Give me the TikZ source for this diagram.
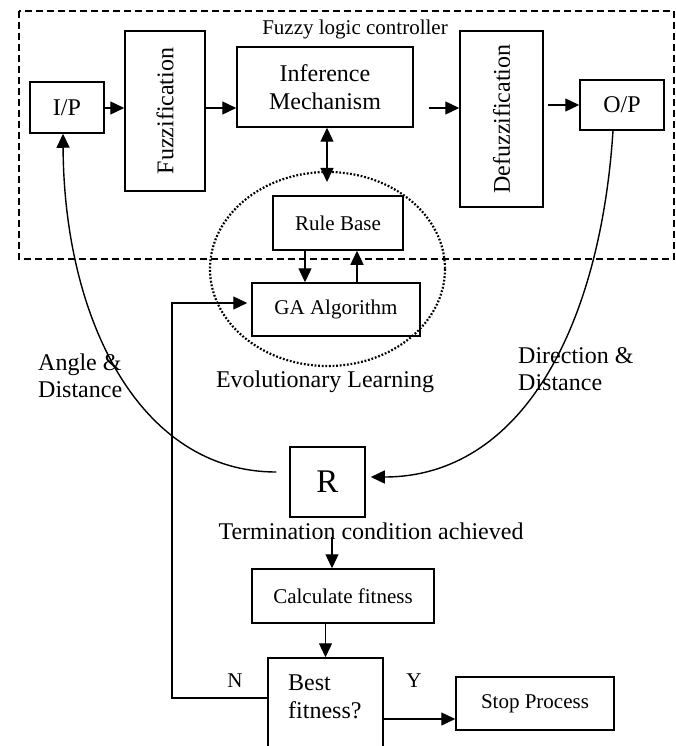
\documentclass[tikz,border=0pt]{standalone}
\usepackage{fontspec}
\usepackage{graphicx}
\setmainfont{Liberation Serif}
\usetikzlibrary{arrows.meta,calc}
\newcommand{\bigf}{\fontsize{24}{27.5}\selectfont}
\newcommand{\smallf}{\fontsize{21}{24}\selectfont}
\begin{document}
\begin{tikzpicture}[x=1pt,y=-1pt,
  box/.style={draw,line width=1.5pt,rectangle,inner sep=0pt,align=center},
  txt/.style={inner sep=0pt,align=left},
  arr/.style={line width=1.4pt,-{Triangle[length=14pt,width=13pt]}},
  darr/.style={line width=1.4pt,{Triangle[length=14pt,width=13pt]}-{Triangle[length=14pt,width=13pt]}},
  ln/.style={line width=1.4pt}]
\clip (0,0) rectangle (676,746);
\useasboundingbox (0,0) rectangle (676,746);
% dashed controller frame
\draw[line width=1.5pt,dash pattern=on 7pt off 4pt] (19,11) rectangle (674,259);
\node[txt,font=\smallf] (flc) at (355,29) {Fuzzy logic controller};
% boxes
\node[box,minimum width=74pt,minimum height=51pt,font=\bigf] (ip) at (67,107.5) {I/P};
\node[box,minimum width=80pt,minimum height=160pt,font=\bigf] (fuzz) at (165,111) {\rotatebox{90}{Fuzzification}};
\node[box,minimum width=176pt,minimum height=80pt,font=\bigf] (inf) at (325,87) {Inference\\Mechanism};
\node[box,minimum width=83pt,minimum height=176pt,font=\bigf] (defuzz) at (501.5,119) {\rotatebox{90}{Defuzzification}};
\node[box,minimum width=84pt,minimum height=50pt,font=\bigf] (op) at (622,105) {O/P};
\node[box,minimum width=130pt,minimum height=54pt,font=\smallf] (rule) at (338,223) {Rule Base};
\node[box,minimum width=168pt,minimum height=53pt,font=\smallf] (ga) at (336,309.5) {GA Algorithm};
% dotted ellipse
\draw[line width=2.2pt,dash pattern=on 1.8pt off 1.8pt] (327.5,269) ellipse [x radius=117.5,y radius=97];
\node[txt,font=\bigf] (evo) at (325,382) {Evolutionary Learning};
% R box and lower flow
\node[box,minimum width=75pt,minimum height=70pt,font=\fontsize{33}{36}\selectfont] (R) at (327.5,482) {R};
\node[txt,font=\bigf] (term) at (371,531) {Termination condition achieved};
\node[box,minimum width=182pt,minimum height=54pt,font=\smallf] (calc) at (343,596) {Calculate fitness};
\node[box,minimum width=115pt,minimum height=132pt] (best) at (325.5,724) {};
\node[txt,font=\bigf,anchor=west] (besttxt) at (288,697) {Best\\fitness?};
\node[box,minimum width=158pt,minimum height=53pt,font=\smallf] (stop) at (535,703.5) {Stop Process};
\node[txt,font=\smallf] (nlab) at (235,681) {N};
\node[txt,font=\smallf] (ylab) at (414,681) {Y};
\node[txt,font=\bigf,anchor=west] (ad) at (38,376) {Angle \&\\Distance};
\node[txt,font=\bigf,anchor=west] (dd) at (518,369) {Direction \&\\Distance};
% helper coordinates
\coordinate (y108) at (0,108);
\coordinate (rbtop) at (327,182);
\coordinate (x305) at (305,0);
\coordinate (x357) at (357,0);
\coordinate (c1) at (172,698);
\coordinate (c2) at (172,303);
\coordinate (tstart) at (332,537);
\coordinate (y719) at (0,719);
% connectors
\draw[arr] (ip.east |- y108) -- (fuzz.west |- y108);
\draw[arr] (fuzz.east |- y108) -- (inf.west |- y108);
\draw[arr] ($(inf.east |- y108)+(15,0)$) -- (defuzz.west |- y108);
\draw[arr] ($(defuzz.east |- op.west)+(4,0)$) -- (op.west);
\draw[darr] (inf.south -| rbtop) -- (rbtop);
\draw[arr] (rule.south -| x305) -- (ga.north -| x305);
\draw[arr] (ga.north -| x357) -- (rule.south -| x357);
\draw[arr] (best.west |- c1) -- (c1) -- (c2) -- ($(ga.west |- c2)+(-4,0)$);
\draw[arr] ($(R.west)+(-13,-10)$) .. controls (140,472) and (64,320) .. ($(ip.south)+(-4,0)$);
\draw[arr] ($(op.south)+(-9,0)$) .. controls (600,330) and (520,477) .. ($(R.east)+(5,-5)$);
\draw[arr] (tstart) -- (calc.north -| tstart);
\draw[arr] (calc.south -| best.north) -- (best.north);
\draw[arr] (best.east |- y719) -- (stop.west |- y719);
\end{tikzpicture}
\end{document}
